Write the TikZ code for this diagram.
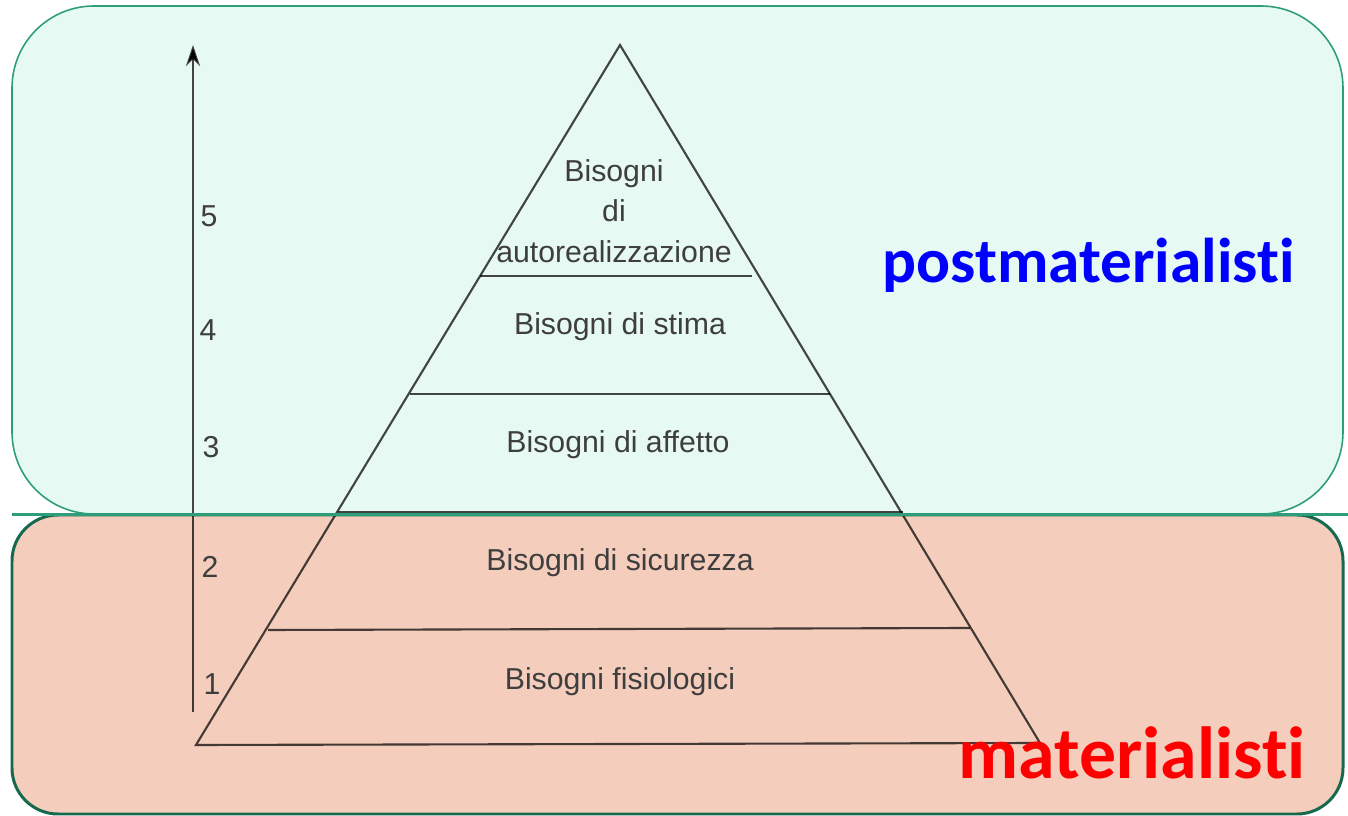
\documentclass[tikz,border=0pt]{standalone}
\usepackage{fontspec}
\setmainfont{Liberation Sans}
\newfontfamily\labelfont[Ligatures=NoCommon]{Carlito}
\usetikzlibrary{arrows.meta}
\definecolor{mint}{HTML}{E6F9F3}
\definecolor{peach}{HTML}{F5CDBC}
\definecolor{topline}{HTML}{2E9E7A}
\definecolor{botline}{HTML}{17694D}
\definecolor{pyrtext}{HTML}{3E3E3E}
\begin{document}
\begin{tikzpicture}[x=0.01cm,y=-0.01cm,
  pyr/.style={draw=black,draw opacity=0.72,line width=0.6pt},
  lvl/.style={font=\fontsize{8.6}{11.5}\selectfont,text=pyrtext,inner sep=0pt,align=center},
  num/.style={font=\fontsize{8.6}{10}\selectfont,text=pyrtext,inner sep=0pt},
  biglabel/.style={inner sep=0pt}]
\useasboundingbox (0,0) rectangle (1348,816);
% background boxes
\path[fill=mint,draw=topline,line width=0.45pt,rounded corners=0.82cm] (12,6) rectangle (1343,514);
\path[fill=peach,draw=botline,line width=0.85pt,rounded corners=0.46cm] (12,515) rectangle (1343,814);
% pyramid coordinates
\coordinate (apex) at (620,45);
\coordinate (L1) at (480,276); \coordinate (R1) at (752,276);
\coordinate (L2) at (410,394); \coordinate (R2) at (830,394);
\coordinate (L3) at (338,512); \coordinate (R3) at (903,512);
\coordinate (L4) at (268,630); \coordinate (R4) at (970,628);
\coordinate (BL) at (196,745); \coordinate (BR) at (1040,743);
\draw[pyr] (BL) -- (apex) -- (BR) -- cycle;
\draw[pyr] (L1) -- (R1);
\draw[pyr] (L2) -- (R2);
\draw[pyr] (L3) -- (R3);
\draw[pyr] (L4) -- (R4);
% axis
\coordinate (axbot) at (193,712);
\coordinate (axtop) at (193,45);
\draw[draw=black,draw opacity=0.72,line width=0.6pt,-{Stealth[length=6pt,width=4pt]}] (axbot) -- (axtop);
% separator
\coordinate (sepL) at (12,514.5);
\coordinate (sepR) at (1348,514.5);
\draw[topline,line width=1.1pt] (sepL) -- (sepR);
% level numbers
\node[num] (n5) at (209,216) {5};
\node[num] (n4) at (208,330) {4};
\node[num] (n3) at (211,447) {3};
\node[num] (n2) at (210,567) {2};
\node[num] (n1) at (212,684) {1};
% level texts
\node[lvl] (t5) at (614,211) {Bisogni\\di\\autorealizzazione};
\node[lvl] (t4) at (620,327) {Bisogni di stima};
\node[lvl] (t3) at (618,445) {Bisogni di affetto};
\node[lvl] (t2) at (620,563) {Bisogni di sicurezza};
\node[lvl] (t1) at (620,682) {Bisogni fisiologici};
% big labels
\node[biglabel,text=blue,font=\labelfont\bfseries\fontsize{18}{20}\selectfont,anchor=base west] (post) at (882,283) {postmaterialisti};
\node[biglabel,text=red,font=\labelfont\bfseries\fontsize{21}{24}\selectfont,anchor=base west] (mat) at (958,779) {materialisti};
\end{tikzpicture}
\end{document}
